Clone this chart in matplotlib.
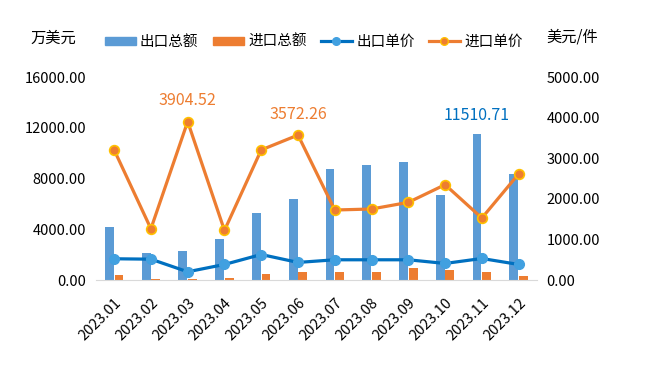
import numpy as np
import matplotlib
matplotlib.use('Agg')
import matplotlib.pyplot as plt
from matplotlib.lines import Line2D
from matplotlib.patches import Patch

plt.rcParams['font.family'] = ['Noto Sans CJK SC', 'DejaVu Sans']

months = ['2023.01', '2023.02', '2023.03', '2023.04', '2023.05', '2023.06',
          '2023.07', '2023.08', '2023.09', '2023.10', '2023.11', '2023.12']
export_total = [4220, 2170, 2330, 3270, 5320, 6430, 8790, 9050, 9345, 6740, 11510.71, 8400]
import_total = [430, 140, 100, 220, 460, 620, 670, 650, 990, 830, 670, 350]
export_price = [530, 520, 210, 390, 635, 440, 505, 505, 505, 415, 537, 390]
import_price = [3207, 1268, 3904.52, 1227, 3207, 3572.26, 1729, 1754, 1917, 2352, 1532, 2616]

c_blue_bar = '#5B9BD5'
c_orange = '#ED7D31'
c_blue_line = '#0070C0'

fig = plt.figure(figsize=(6.47, 3.65), dpi=100)
ax = fig.add_axes([0.148, 0.232, 0.682, 0.557])
ax2 = ax.twinx()

x = np.arange(len(months))
w = 0.24
ax.bar(x - 0.13, export_total, w, color=c_blue_bar, zorder=2)
ax.bar(x + 0.13, import_total, w, color=c_orange, zorder=2)
ax.set_ylim(0, 16000)
ax.set_xlim(-0.5, len(months) - 0.5)
ax.set_yticks(np.arange(0, 16001, 4000))
ax.set_yticklabels([f'{v:.2f}' for v in np.arange(0, 16001, 4000)], fontsize=10.5)
ax.set_xticks(x)
ax.set_xticklabels(months, rotation=45, ha='right', rotation_mode='anchor', fontsize=10.5)

ax2.plot(x, export_price, color=c_blue_line, lw=2.3, marker='o', ms=7,
         mfc='#41A0E0', mec='#41A0E0', zorder=3)
ax2.plot(x, import_price, color=c_orange, lw=2.3, marker='o', ms=7,
         mfc=c_orange, mec='#FFC000', mew=1.2, zorder=3)
ax2.set_ylim(0, 5000)
ax2.set_yticks(np.arange(0, 5001, 1000))
ax2.set_yticklabels([f'{v:.2f}' for v in np.arange(0, 5001, 1000)], fontsize=10.5)

ax.set_zorder(ax2.get_zorder() - 1)
ax2.patch.set_visible(False)

for a in (ax, ax2):
    for s in a.spines.values():
        s.set_visible(False)
    a.tick_params(length=0, colors='black')
ax.spines['bottom'].set_visible(True)
ax.spines['bottom'].set_color('#D9D9D9')
ax.tick_params(axis='y', pad=7)
ax2.tick_params(axis='y', pad=7)
ax.tick_params(axis='x', pad=11)

# data labels
for i in (2, 5):
    ax2.annotate(f'{import_price[i]:.2f}', (x[i], import_price[i]), xytext=(0, 9),
                 textcoords='offset points', ha='center', va='bottom',
                 color=c_orange, fontsize=11.5)
ax.annotate(f'{export_total[10]:.2f}', (x[10] - 0.13, export_total[10]), xytext=(0, 7),
            textcoords='offset points', ha='center', va='bottom',
            color=c_blue_line, fontsize=11.5)

fig.text(0.082, 0.895, '万美元', fontsize=11, ha='center', va='center')
fig.text(0.885, 0.898, '美元/件', fontsize=11, ha='center', va='center')

handles = [Patch(color=c_blue_bar), Patch(color=c_orange),
           Line2D([], [], color=c_blue_line, lw=2.3, marker='o', ms=5.5, mfc='#41A0E0', mec='#41A0E0'),
           Line2D([], [], color=c_orange, lw=2.3, marker='o', ms=5.5, mfc=c_orange, mec='#FFC000')]
fig.legend(handles, ['出口总额', '进口总额', '出口单价', '进口单价'], loc='center',
           bbox_to_anchor=(0.485, 0.885), ncol=4, frameon=False, fontsize=10.5,
           handlelength=2.1, handleheight=0.5, columnspacing=1.0, handletextpad=0.3)

fig.savefig('out.png', dpi=100)
